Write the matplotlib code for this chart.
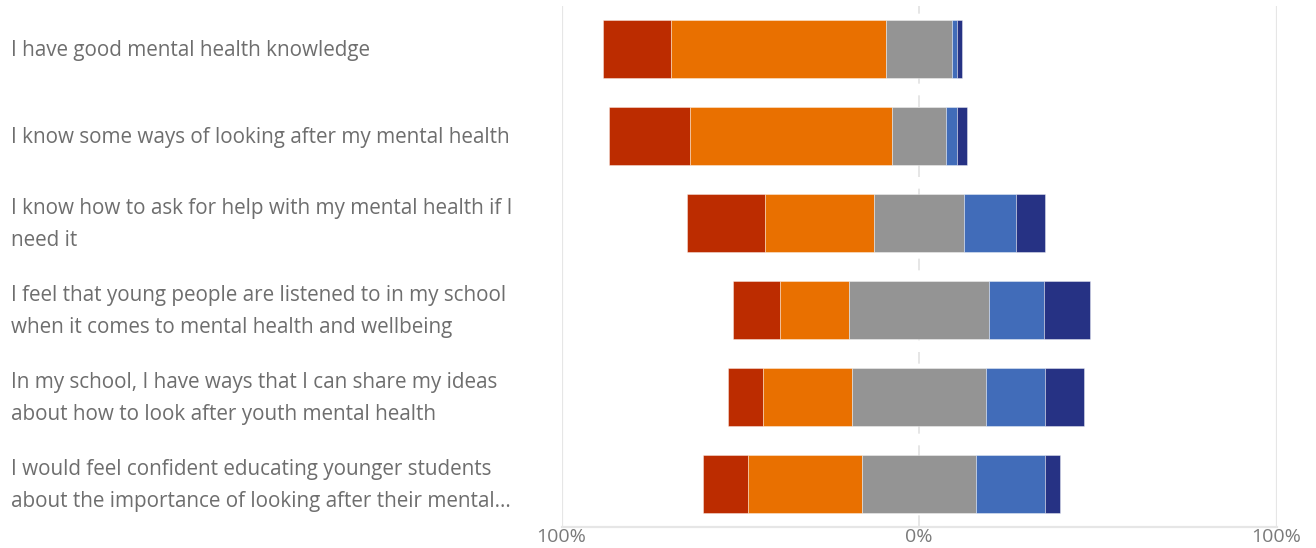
import matplotlib.pyplot as plt
import matplotlib.transforms as mtransforms
import numpy as np

# Survey statements (top to bottom) and response shares in percent
statements = [
    "I have good mental health knowledge",
    "I know some ways of looking after my mental health",
    "I know how to ask for help with my mental health if I\nneed it",
    "I feel that young people are listened to in my school\nwhen it comes to mental health and wellbeing",
    "In my school, I have ways that I can share my ideas\nabout how to look after youth mental health",
    "I would feel confident educating younger students\nabout the importance of looking after their mental...",
]
strongly_disagree = [19.0, 22.6, 21.9, 13.0, 10.0, 12.6]
disagree = [60.2, 56.5, 30.4, 19.3, 24.8, 31.8]
neutral = [18.3, 15.3, 25.4, 39.4, 37.5, 32.1]
agree = [1.6, 3.1, 14.3, 15.4, 16.5, 19.3]
strongly_agree = [1.3, 2.8, 8.2, 12.8, 11.0, 4.0]

colors = ["#BC2C00", "#E97000", "#949494", "#416CB9", "#263284"]

plt.rcParams['font.family'] = ['Open Sans', 'DejaVu Sans']

fig = plt.figure(figsize=(13.16, 5.48), dpi=100)
ax = fig.add_axes([561.5 / 1316, 21 / 548, 715 / 1316, 521.5 / 548])

y = np.arange(len(statements))
sd = np.array(strongly_disagree)
d = np.array(disagree)
n = np.array(neutral)
a = np.array(agree)
sa = np.array(strongly_agree)

# neutral block sits centred on zero, the rest stacks outwards
start = -(sd + d + n / 2)
lefts = [start, start + sd, start + sd + d, n / 2, n / 2 + a]
widths = [sd, d, n, a, sa]
for left, width, col in zip(lefts, widths, colors):
    ax.barh(y, width, left=left, height=0.667, color=col,
            edgecolor=(1, 1, 1, 0.45), linewidth=0.6, zorder=3)

ax.set_xlim(-100, 100)
ax.set_ylim(len(statements) - 0.5, -0.5)

# gridlines: solid at the ends, dashed at zero
for xv in (-100, 100):
    ax.axvline(xv, color="#E6E6E6", lw=1.6, zorder=1)
ax.axvline(0, color="#E6E6E6", lw=1.4, ls=(0, (6, 6)), zorder=1)

for side in ["top", "right", "left"]:
    ax.spines[side].set_visible(False)
ax.spines["bottom"].set_color("#E6E6E6")
ax.spines["bottom"].set_linewidth(1.6)

ax.set_xticks([-100, 0, 100])
ax.set_xticklabels(["100%", "0%", "100%"])
ax.tick_params(axis="x", length=0, pad=1, labelsize=14, labelcolor="#7A7A7A")
ax.set_yticks([])

trans = mtransforms.blended_transform_factory(fig.transFigure, ax.transData)
for yi, label in zip(y, statements):
    ax.text(11 / 1316, yi + 0.02, label, transform=trans, ha="left", va="center",
            fontsize=14.9, color="#6E6E6E", linespacing=1.7)

fig.savefig("out.png", dpi=100)
